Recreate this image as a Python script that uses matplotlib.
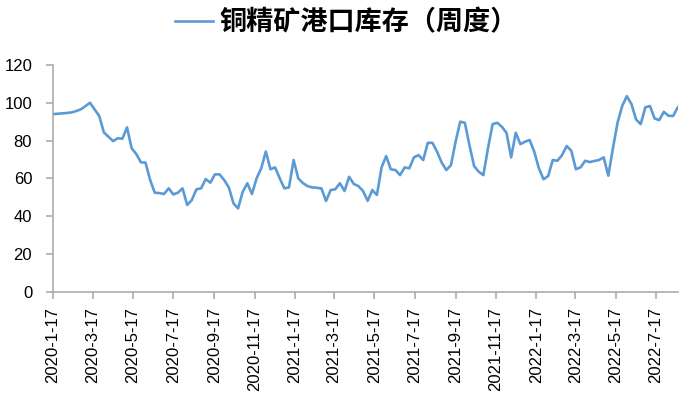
import numpy as np
import pandas as pd
from matplotlib import pyplot as plt
import matplotlib.dates as mdates
from datetime import datetime

plt.rcParams['font.family'] = ['Liberation Sans', 'Noto Sans CJK SC', 'DejaVu Sans']

series_name = '铜精矿港口库存（周度）'
start_date = '2020-01-17'

# weekly port inventory
inventory = [94.0, 94.2, 94.4, 94.6, 94.9, 95.6, 96.5, 98.2, 100.0, 96.5,
             93.0, 84.3, 82.0, 79.7, 81.2, 81.0, 87.0, 75.9, 72.9, 68.5,
             68.3, 59.1, 52.4, 52.2, 51.7, 54.7, 51.5, 52.4, 54.7, 45.9,
             48.5, 54.2, 54.7, 59.6, 57.7, 62.1, 62.1, 59.1, 55.2, 46.8,
             44.1, 52.9, 57.4, 51.7, 60.0, 65.3, 74.2, 64.8, 65.8, 60.0,
             54.7, 55.2, 69.7, 60.0, 57.5, 55.9, 55.2, 55.0, 54.7, 48.0,
             53.8, 54.2, 57.4, 53.3, 60.8, 57.0, 55.9, 53.3, 48.1, 53.8,
             51.2, 65.8, 71.8, 64.8, 64.4, 61.7, 65.8, 65.3, 71.1, 72.3,
             69.7, 78.8, 78.8, 74.1, 68.3, 64.4, 67.0, 79.4, 90.0, 89.4,
             77.5, 66.5, 63.5, 61.7, 75.9, 88.7, 89.4, 87.3, 84.1, 71.1,
             84.1, 78.1, 79.4, 80.3, 74.1, 65.3, 59.5, 61.2, 69.7, 69.3,
             72.3, 77.1, 74.6, 64.8, 65.8, 69.3, 68.6, 69.2, 69.7, 71.1,
             61.4, 76.0, 89.5, 98.3, 103.5, 99.3, 91.2, 88.7, 97.6, 98.3,
             91.7, 90.8, 95.2, 93.1, 93.0, 97.6]

tick_labels = ['2020-1-17', '2020-3-17', '2020-5-17', '2020-7-17', '2020-9-17',
               '2020-11-17', '2021-1-17', '2021-3-17', '2021-5-17', '2021-7-17',
               '2021-9-17', '2021-11-17', '2022-1-17', '2022-3-17', '2022-5-17',
               '2022-7-17']
y_ticks = [0, 20, 40, 60, 80, 100, 120]

dates = pd.date_range(start_date, periods=len(inventory), freq='7D')
tick_dates = [datetime.strptime(s, '%Y-%m-%d') for s in tick_labels]

fig = plt.figure(figsize=(6.87, 3.98), dpi=100)
ax = fig.add_axes([0.0771, 0.2671, 0.9094, 0.5696])

ax.plot(dates, inventory, color='#5B9BD5', linewidth=1.9, label=series_name)

ax.set_xlim(dates[0], dates[-1])
ax.set_ylim(0, 120)
ax.set_yticks(y_ticks)
ax.set_xticks(tick_dates)
ax.set_xticklabels(tick_labels, rotation=90)

for side in ['top', 'right']:
    ax.spines[side].set_visible(False)
for side in ['left', 'bottom']:
    ax.spines[side].set_color('#A6A6A6')
    ax.spines[side].set_linewidth(1.1)

ax.tick_params(axis='y', length=5, width=1.1, color='#A6A6A6', pad=10, labelsize=12)
ax.tick_params(axis='x', length=5, width=1.1, color='#A6A6A6', pad=6, labelsize=12)

# legend sits on top like a title
leg = fig.legend(loc='center', bbox_to_anchor=(0.504, 1 - 22 / 398), frameon=False,
                 handlelength=1.4, handletextpad=0.25,
                 prop={'family': ['Noto Sans CJK SC'], 'weight': 'bold', 'size': 19.5})

fig.savefig('out.png', dpi=100)
